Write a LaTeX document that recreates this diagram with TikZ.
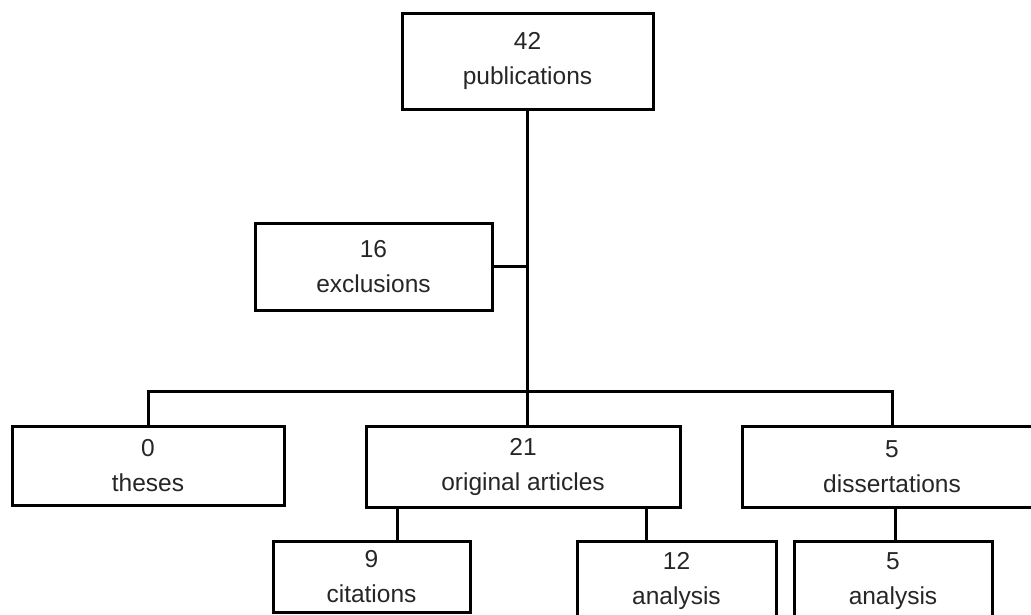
\documentclass[tikz,border=0pt]{standalone}
\usepackage{fontspec}
\setmainfont{Liberation Sans}
\begin{document}
\begin{tikzpicture}[x=1pt,y=-1pt,
  box/.style={draw=black, line width=3pt, fill=white, inner sep=0pt, align=center,
    font=\fontsize{24.5}{35}\selectfont, text=black!85},
  link/.style={draw=black, line width=3pt}]
\useasboundingbox (0,0) rectangle (1031,614);
\clip (0,0) rectangle (1031,614);
\fill[white] (0,0) rectangle (1031,614);
% boxes
\node[box, minimum width=251pt, minimum height=96pt] (pub) at (527.5,61) {42\\publications};
\node[box, minimum width=237pt, minimum height=87pt] (excl) at (373.5,266.5) {16\\exclusions};
\node[box, minimum width=272pt, minimum height=79pt] (theses) at (148,465.5) {0\\theses};
\node[box, minimum width=314pt, minimum height=81pt] (orig) at (523,466.5) {21\\original articles};
\node[box, minimum width=300pt, minimum height=81pt] (diss) at (892,466.5) {5\\dissertations};
\node[box, minimum width=197pt, minimum height=71pt] (cit) at (371.5,576.5) {9\\citations};
\node[box, minimum width=199pt, minimum height=80pt] (an12) at (676.5,581) {12\\analysis};
\node[box, minimum width=198pt, minimum height=80pt] (an5) at (893,581) {5\\analysis};
% connector coordinates
\coordinate (bar) at (527,391);
\coordinate (trunk) at (527,0);
\coordinate (c1) at (397,0);
\coordinate (c2) at (646,0);
\coordinate (c3) at (895,0);
% connectors
\draw[link] (trunk |- pub.south) -- (trunk |- orig.north);
\draw[link] (excl.east) -- (excl.east -| trunk);
\draw[link] (theses.north) |- (bar) -| (diss.north);
\draw[link] (c1 |- orig.south) -- (c1 |- cit.north);
\draw[link] (c2 |- orig.south) -- (c2 |- an12.north);
\draw[link] (c3 |- diss.south) -- (c3 |- an5.north);
\end{tikzpicture}
\end{document}
